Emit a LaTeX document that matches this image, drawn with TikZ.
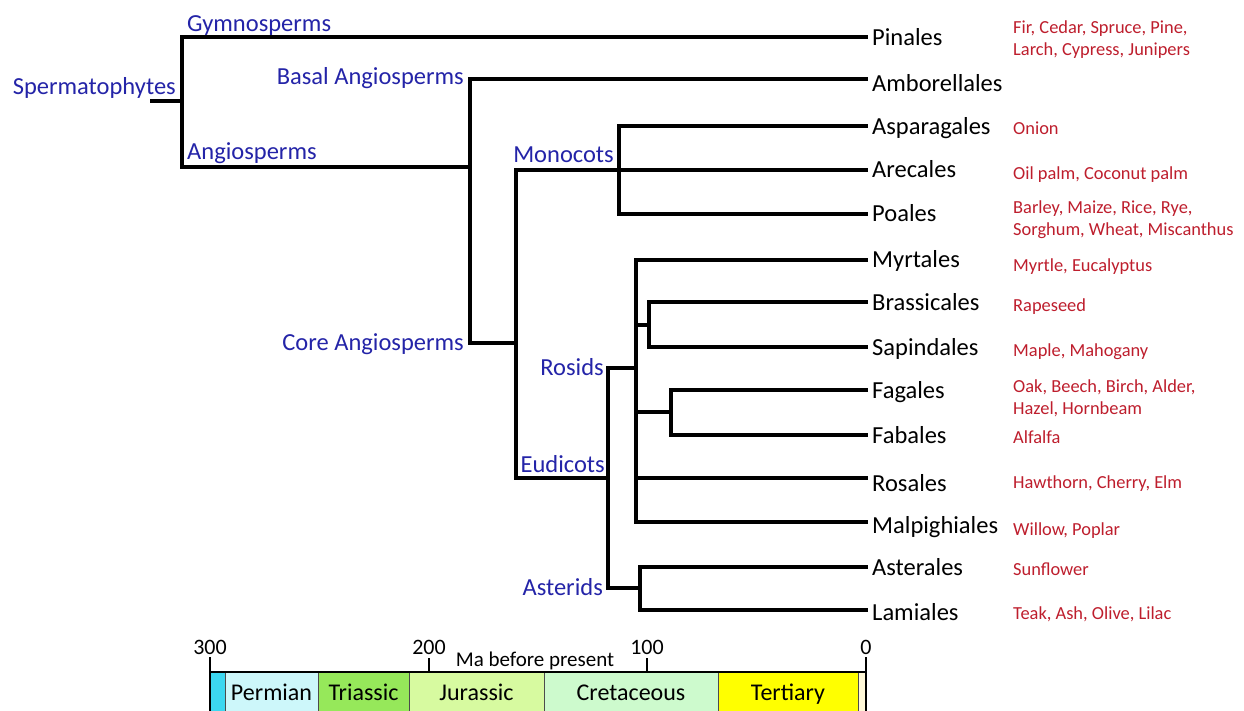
\documentclass[tikz,border=0pt]{standalone}
\usepackage{fontspec}
\setmainfont{Carlito}
\usetikzlibrary{positioning}
\definecolor{cladeblue}{RGB}{36,36,168}
\definecolor{usered}{RGB}{190,30,45}
\definecolor{carb}{RGB}{60,215,240}
\definecolor{perm}{RGB}{205,247,250}
\definecolor{tria}{RGB}{150,232,90}
\definecolor{jura}{RGB}{215,250,160}
\definecolor{cret}{RGB}{205,250,205}
\definecolor{tert}{RGB}{255,255,0}
\definecolor{quat}{RGB}{255,248,215}
\begin{document}
\begin{tikzpicture}[x=1pt,y=-1pt,
  tree/.style={line width=3.2pt},
  tip/.style={anchor=base west,inner sep=0pt,font=\fontsize{24.5}{28}\selectfont},
  use/.style={anchor=base west,inner sep=0pt,align=left,text=usered,font=\fontsize{18.4}{22}\selectfont},
  clade/.style={inner sep=0pt,text=cladeblue,font=\fontsize{24.5}{28}\selectfont},
  era/.style={inner sep=0pt,anchor=base,font=\fontsize{24}{28}\selectfont},
  tick/.style={inner sep=0pt,anchor=base,font=\fontsize{22}{26}\selectfont}]
\useasboundingbox[fill=white] (0,0) rectangle (1244,711);
% orders: name / branch y / label base / uses base (last line) / label / uses
\foreach \n/\y/\b/\r/\lab/\use in {pin/37/46/56/Pinales/{Fir, Cedar, Spruce, Pine,\\Larch, Cypress, Junipers},
  amb/79/92/92/Amborellales/{},
  asp/126/135/135/Asparagales/Onion,
  are/170/178/180/Arecales/{Oil palm, Coconut palm},
  poa/214/222/236/Poales/{Barley, Maize, Rice, Rye,\\Sorghum, Wheat, Miscanthus},
  myr/260/268/272/Myrtales/{Myrtle, Eucalyptus},
  bra/302/310/311/Brassicales/Rapeseed,
  sap/347/355/356/Sapindales/{Maple, Mahogany},
  fag/390/398/414/Fagales/{Oak, Beech, Birch, Alder,\\Hazel, Hornbeam},
  fab/435/443/443/Fabales/Alfalfa,
  rsl/478/491/488/Rosales/{Hawthorn, Cherry, Elm},
  mal/522/533/535/Malpighiales/{Willow, Poplar},
  ase/567/575/575/Asterales/Sunflower,
  lam/610/620/619/Lamiales/{Teak, Ash, Olive, Lilac}}{%
  \coordinate (t-\n) at (868,\y);
  \node[tip] (\n) at (872,\b) {\lab};
  \node[use] (u-\n) at (1013,\r) {\use};}
% branch points
\coordinate (root) at (150,101);
\coordinate (sp) at (182,101);
\coordinate (ang) at (470,167);
\coordinate (core) at (516,343);
\coordinate (mono) at (619,170);
\coordinate (eud) at (608,478);
\coordinate (ros) at (636,368);
\coordinate (bs) at (649,325);
\coordinate (ff) at (671,412);
\coordinate (ast) at (640,588);
\draw[tree] (root) -- (sp);
\draw[tree] (sp) |- (t-pin);
\draw[tree] (sp) |- (ang);
\draw[tree] (ang) |- (t-amb);
\draw[tree] (ang) |- (core);
\draw[tree] (core) |- (t-are);
\draw[tree] (mono) |- (t-asp);
\draw[tree] (mono) |- (t-poa);
\draw[tree] (core) |- (eud);
\draw[tree] (eud) |- (ros);
\draw[tree] (eud) |- (ast);
\draw[tree] (ros) |- (t-myr);
\draw[tree] (ros) |- (t-mal);
\draw[tree] (ros) |- (t-rsl);
\draw[tree] (ros) |- (bs);
\draw[tree] (bs) |- (t-bra);
\draw[tree] (bs) |- (t-sap);
\draw[tree] (ros) |- (ff);
\draw[tree] (ff) |- (t-fag);
\draw[tree] (ff) |- (t-fab);
\draw[tree] (ast) |- (t-ase);
\draw[tree] (ast) |- (t-lam);
% clade names
\node[clade,anchor=base east] (spe) at (176,95) {Spermatophytes};
\node[clade,anchor=base west] (gym) at (187,32) {Gymnosperms};
\node[clade,anchor=base west] (angl) at (187,160) {Angiosperms};
\node[clade,anchor=base east] (basl) at (464,85) {Basal Angiosperms};
\node[clade,anchor=base east] (corel) at (464,350) {Core Angiosperms};
\node[clade,anchor=base east] (monol) at (614,163) {Monocots};
\node[clade,anchor=base east] (rosl) at (604,375) {Rosids};
\node[clade,anchor=base east] (eudl) at (605,472) {Eudicots};
\node[clade,anchor=base east] (astl) at (603,595) {Asterids};
% time scale
\foreach \a/\b/\c/\lab [count=\i] in {210/225/carb/{},225/318/perm/Permian,318/409/tria/Triassic,
  409/544/jura/Jurassic,544/718/cret/Cretaceous,718/858/tert/Tertiary,858/866/quat/{}}{%
  \draw[fill=\c,draw=black!70,line width=1pt] (\a,672) rectangle (\b,711);
  \node[era] (era\i) at ({(\a+\b)/2},700) {\lab};}
\foreach \m/\x in {300/210,200/429,100/647,0/866}{%
  \coordinate (k\m) at (\x,672);
  \node[tick] (l\m) at (\x,654) {\m};}
\draw[line width=2pt] (k300) -- (k0);
\draw[line width=2pt] (210,657) -- (210,711) (866,657) -- (866,711)
  (429,658) -- (k200) (647,658) -- (k100);
\node[tick,font=\fontsize{21}{25}\selectfont] (ma) at (535,666) {Ma before present};
\end{tikzpicture}
\end{document}
